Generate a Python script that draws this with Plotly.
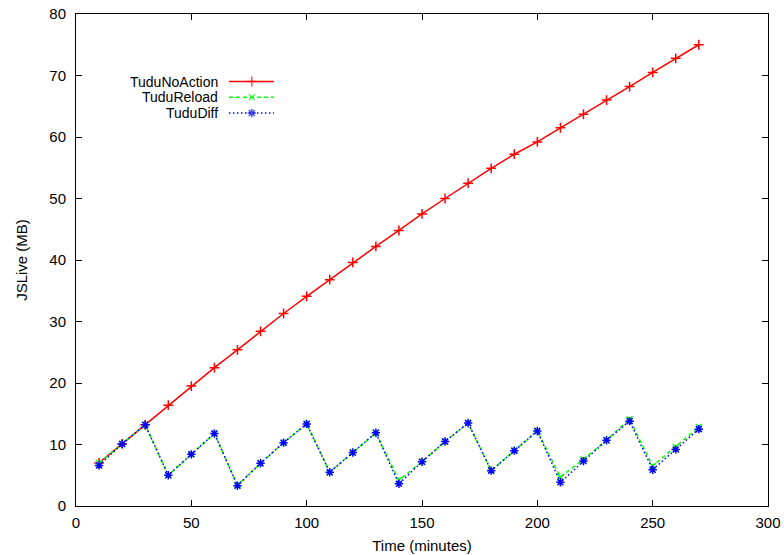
import plotly.graph_objects as go

# Sample times (minutes)
time_min = [10, 20, 30, 40, 50, 60, 70, 80, 90, 100, 110, 120, 130, 140,
            150, 160, 170, 180, 190, 200, 210, 220, 230, 240, 250, 260, 270]

# JS live heap (MB) per strategy
no_action = [7.0, 10.1, 13.2, 16.4, 19.5, 22.5, 25.4, 28.4, 31.3, 34.1, 36.8,
             39.6, 42.2, 44.8, 47.5, 50.0, 52.5, 54.9, 57.2, 59.2, 61.5, 63.7,
             66.0, 68.2, 70.5, 72.8, 75.0]
reload_ = [7.0, 10.1, 13.2, 5.0, 8.4, 11.8, 3.4, 6.95, 10.3, 13.35, 5.5, 8.7,
           11.9, 4.2, 7.2, 10.5, 13.5, 5.75, 9.0, 12.2, 4.7, 7.6, 10.7, 14.1,
           6.5, 9.6, 12.85]
diff = [6.6, 10.1, 13.2, 5.0, 8.4, 11.8, 3.3, 6.95, 10.3, 13.35, 5.5, 8.7,
        11.9, 3.6, 7.2, 10.5, 13.5, 5.75, 9.0, 12.2, 3.85, 7.3, 10.7, 13.8,
        5.9, 9.2, 12.5]

series_names = ["TuduNoAction", "TuduReload", "TuduDiff"]
series_data = [no_action, reload_, diff]
colors = ["#ff0000", "#00ff00", "#0000ff"]
dashes = ["solid", "4px,3px", "1.5px,2.5px"]
symbols = ["cross-thin", "x-thin", "asterisk-open"]
msizes = [7, 6, 7]

x_ticks = [0, 50, 100, 150, 200, 250, 300]
y_ticks = [0, 10, 20, 30, 40, 50, 60, 70, 80]

FONT = "Liberation Sans, Arial, Helvetica, sans-serif"
FS = 15
KEY_FS = 14

fig = go.Figure()

for name, ys, c, d, s, ms in zip(series_names, series_data, colors, dashes, symbols, msizes):
    fig.add_trace(go.Scatter(
        x=time_min, y=ys, mode="lines+markers", name=name,
        line=dict(color=c, width=1.5, dash=d),
        marker=dict(symbol=s, size=ms, color=c, line=dict(color=c, width=1.5)),
        showlegend=False,
    ))

# Key in gnuplot style: right-aligned labels with the line sample to the right
key_rows = [0.8628, 0.8307, 0.7986]
for name, c, d, s, ms, ky in zip(series_names, colors, dashes, symbols, msizes, key_rows):
    fig.add_trace(go.Scatter(
        x=[0.221, 0.254, 0.286], y=[ky, ky, ky], xaxis="x2", yaxis="y2",
        mode="lines+markers", showlegend=False, hoverinfo="skip",
        line=dict(color=c, width=1.5, dash=d),
        marker=dict(symbol=s, size=[0, ms, 0], color=c, line=dict(color=c, width=1.5)),
    ))
    fig.add_annotation(text=name, xref="paper", yref="paper", x=0.207, y=ky,
                       xanchor="right", yanchor="middle", showarrow=False,
                       borderpad=0,
                       font=dict(family=FONT, size=KEY_FS, color="#000"))

axis_common = dict(
    showgrid=False, zeroline=False, showline=True, linecolor="#000",
    linewidth=1, mirror="ticks", ticks="inside", ticklen=6, tickcolor="#000",
    tickfont=dict(family=FONT, size=FS, color="#000"), automargin=False,
)

fig.update_layout(
    width=784, height=555,
    margin=dict(l=76, r=16, t=14, b=49),
    paper_bgcolor="white", plot_bgcolor="white",
    font=dict(family=FONT, size=FS, color="#000"),
    xaxis=dict(range=[0, 300], tickvals=x_ticks, ticklabelstandoff=3,
               title=dict(text="Time (minutes)", standoff=10,
                          font=dict(family=FONT, size=FS)),
               **axis_common),
    yaxis=dict(range=[0, 80], tickvals=y_ticks, ticklabelstandoff=6,
               title=dict(text="JSLive (MB)", standoff=18,
                          font=dict(family=FONT, size=FS)),
               **axis_common),
    xaxis2=dict(range=[0, 1], overlaying="x", visible=False, fixedrange=True),
    yaxis2=dict(range=[0, 1], overlaying="y", visible=False, fixedrange=True),
    showlegend=False,
)

fig.write_html("out.html")
